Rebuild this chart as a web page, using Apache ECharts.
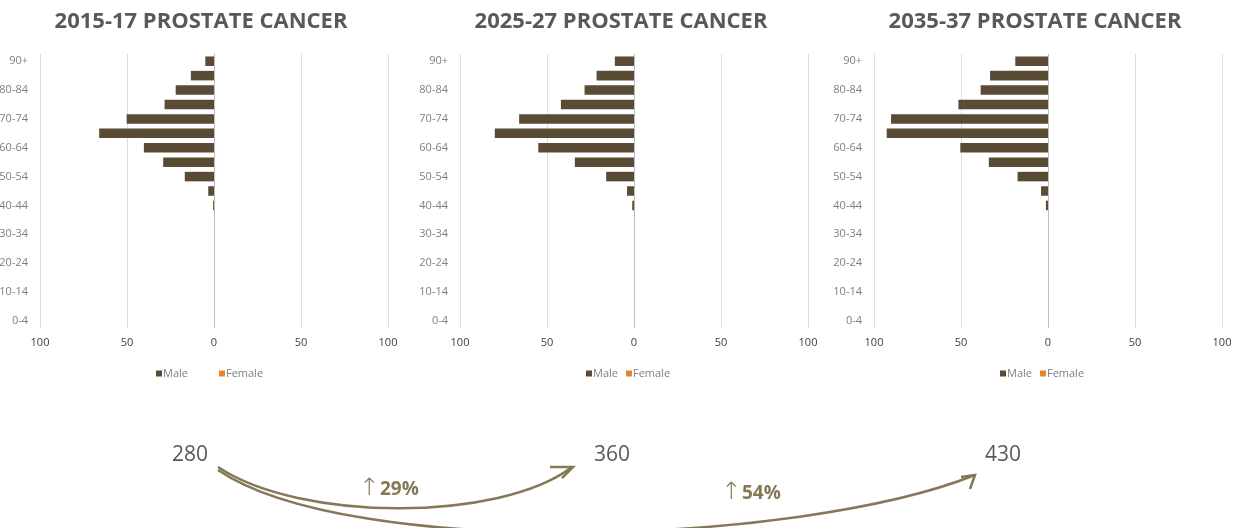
<!DOCTYPE html>
<html>
<head>
<meta charset="utf-8">
<script src="https://cdn.jsdelivr.net/npm/echarts/dist/echarts.min.js"></script>
<style>
  html, body { margin: 0; background: #fff; }
  #main { width: 1237px; height: 528px; }
</style>
</head>
<body>
<div id="main"></div>
<script>
// age bands, bottom to top
var ageGroups = ['0-4', '5-9', '10-14', '15-19', '20-24', '25-29', '30-34', '35-39', '40-44',
  '45-49', '50-54', '55-59', '60-64', '65-69', '70-74', '75-79', '80-84', '85-89', '90+'];

var titles = ['2015-17 PROSTATE CANCER', '2025-27 PROSTATE CANCER', '2035-37 PROSTATE CANCER'];

var male2015 = [0, 0, 0, 0, 0, 0, 0, 0, 0.5, 3.3, 16.8, 29.2, 40.3, 66, 50.2, 28.4, 22, 13.3, 5];
var male2025 = [0, 0, 0, 0, 0, 0, 0, 0, 1, 4, 16, 34, 55, 80, 66, 42, 28.4, 21.5, 11];
var male2035 = [0, 0, 0, 0, 0, 0, 0, 0, 1.2, 4, 17.5, 34, 50.4, 92.7, 90.2, 51.5, 38.7, 33.3, 18.8];
var female2015 = [0, 0, 0, 0, 0, 0, 0, 0, 0, 0, 0, 0, 0, 0, 0, 0, 0, 0, 0];
var female2025 = [0, 0, 0, 0, 0, 0, 0, 0, 0, 0, 0, 0, 0, 0, 0, 0, 0, 0, 0];
var female2035 = [0, 0, 0, 0, 0, 0, 0, 0, 0, 0, 0, 0, 0, 0, 0, 0, 0, 0, 0];

var totals = [280, 360, 430];
var growth = ['29%', '54%'];

var maleColor = '#5a4b35';
var femaleColor = '#e5852a';
var arrowColor = '#857856';

var panels = [
  { left: 40, male: male2015, female: female2015, cx: 201, legendLeft: 151, gap: 31, num: 190 },
  { left: 460, male: male2025, female: female2025, cx: 621, legendLeft: 581, gap: 8, num: 612 },
  { left: 874, male: male2035, female: female2035, cx: 1035, legendLeft: 995, gap: 8, num: 1003 }
];

var chart = echarts.init(document.getElementById('main'));

var grid = [], xAxis = [], yAxis = [], series = [], legend = [], graphic = [];

panels.forEach(function (p, i) {
  grid.push({ left: p.left, top: 54, width: 348, height: 274, containLabel: false, outerBoundsMode: 'none' });
  xAxis.push({
    type: 'value', gridIndex: i, min: -100, max: 100, interval: 50,
    axisLine: { show: false }, axisTick: { show: false },
    axisLabel: {
      color: '#404040', fontSize: 11, fontFamily: 'Open Sans', margin: 9,
      formatter: function (v) { return Math.abs(v); }
    },
    splitLine: { lineStyle: { color: ['#dedede', '#dedede', '#bcbcbc', '#dedede', '#dedede'], width: 1 } }
  });
  yAxis.push({
    type: 'category', gridIndex: i, data: ageGroups,
    axisLine: { show: false, onZero: false }, axisTick: { show: false },
    axisLabel: { interval: 1, color: '#7f7f7f', fontSize: 11, fontFamily: 'Open Sans', margin: 12 }
  });
  series.push({
    name: 'Male', type: 'bar', xAxisIndex: i, yAxisIndex: i,
    barWidth: '66%', barGap: '-100%',
    itemStyle: { color: maleColor },
    data: p.male.map(function (v) { return -v; })
  });
  series.push({
    name: 'Female', type: 'bar', xAxisIndex: i, yAxisIndex: i,
    barWidth: '66%', barGap: '-100%',
    itemStyle: { color: femaleColor },
    data: p.female
  });
  legend.push({
    data: ['Male', 'Female'], left: p.legendLeft, top: 363,
    icon: 'rect', itemWidth: 6, itemHeight: 6, itemGap: p.gap,
    textStyle: { color: '#7f7f7f', fontSize: 11, fontFamily: 'Open Sans', padding: [0, 0, 0, -4] }
  });
  graphic.push({
    type: 'text',
    style: {
      text: titles[i], x: p.cx, y: 22, align: 'center', verticalAlign: 'middle',
      font: 'bold 22px "Open Sans"', fill: '#595959'
    }
  });
  graphic.push({
    type: 'text',
    style: {
      text: String(totals[i]), x: p.num, y: 455, align: 'center', verticalAlign: 'middle',
      font: '21px "Open Sans"', fill: '#595959'
    }
  });
});

// growth arrows
function arrow(c, tip, w1, w2) {
  graphic.push({
    type: 'bezierCurve', silent: true,
    shape: c,
    style: { stroke: arrowColor, lineWidth: 2.5, fill: null }
  });
  graphic.push({
    type: 'polyline', silent: true,
    shape: { points: [w1, tip, w2] },
    style: { stroke: arrowColor, lineWidth: 2.5, fill: null }
  });
}
arrow({ x1: 218, y1: 467, cpx1: 300, cpy1: 522, cpx2: 500, cpy2: 522, x2: 572, y2: 467 },
  [573, 467], [550, 467], [562, 478]);
arrow({ x1: 218, y1: 470, cpx1: 350, cpy1: 560, cpx2: 800, cpy2: 545, x2: 975, y2: 475 },
  [975, 475], [961, 477], [970, 489]);

function growthLabel(text, x, y) {
  graphic.push({
    type: 'text',
    style: {
      text: '↑', x: x, y: y, verticalAlign: 'middle',
      font: '300 24px "DejaVu Sans"', fill: arrowColor
    }
  });
  graphic.push({
    type: 'text',
    style: {
      text: text, x: x + 21, y: y + 1, verticalAlign: 'middle',
      font: 'bold 19px "Open Sans"', fill: arrowColor
    }
  });
}
growthLabel(growth[0], 359, 489);
growthLabel(growth[1], 721, 493);

chart.setOption({
  backgroundColor: '#fff',
  animation: false,
  grid: grid,
  xAxis: xAxis,
  yAxis: yAxis,
  legend: legend,
  series: series,
  graphic: graphic
});
</script>
</body>
</html>
